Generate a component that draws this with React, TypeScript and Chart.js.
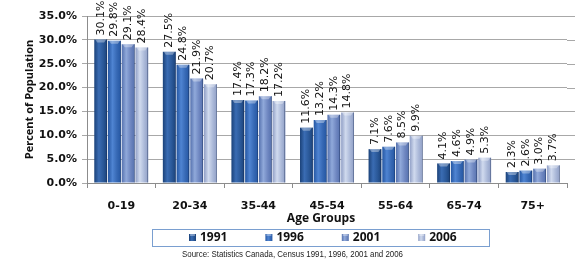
import React, { useEffect, useRef } from 'react';
import { Chart, registerables } from 'chart.js';

Chart.register(...registerables);

const categories = ['0-19', '20-34', '35-44', '45-54', '55-64', '65-74', '75+'];
const years = ['1991', '1996', '2001', '2006'];
const values1991 = [30.1, 27.5, 17.4, 11.6, 7.1, 4.1, 2.3];
const values1996 = [29.8, 24.8, 17.3, 13.2, 7.6, 4.6, 2.6];
const values2001 = [29.1, 21.9, 18.2, 14.3, 8.5, 4.9, 3.0];
const values2006 = [28.4, 20.7, 17.2, 14.8, 9.9, 5.3, 3.7];
const yMin = 0;
const yMax = 35;
const yStep = 5;
const xTitle = 'Age Groups';
const yTitle = 'Percent of Population';
const sourceNote = 'Source: Statistics Canada, Census 1991, 1996, 2001 and 2006';

const seriesValues = [values1991, values1996, values2001, values2006];
const seriesColors = [
  { dark: '#1b4279', mid: '#3a6cb3', base: '#2a5898' },
  { dark: '#2456a2', mid: '#4f84d2', base: '#3668b4' },
  { dark: '#5571ae', mid: '#90a9da', base: '#6e86c0' },
  { dark: '#909fc6', mid: '#d0daee', base: '#aab8d8' },
];

const CAT_PCT = 0.8;
const BAR_PCT = 0.94;

function barGradient(ctx: any, colors: { dark: string; mid: string; base: string }) {
  if (ctx.type !== 'data') return colors.base;
  const chart = ctx.chart;
  const xs = chart.scales && chart.scales.x;
  if (!xs || !isFinite(xs.left) || xs.right <= xs.left) return colors.base;
  const cw = (xs.right - xs.left) / categories.length;
  const slot = (cw * CAT_PCT) / years.length;
  const c = xs.getPixelForValue(ctx.dataIndex) + (ctx.datasetIndex - (years.length - 1) / 2) * slot;
  const hw = (slot * BAR_PCT) / 2;
  const g = chart.ctx.createLinearGradient(c - hw, 0, c + hw, 0);
  g.addColorStop(0, colors.dark);
  g.addColorStop(0.35, colors.mid);
  g.addColorStop(0.7, colors.base);
  g.addColorStop(1, colors.dark);
  return g;
}

const decorPlugin = {
  id: 'decor',
  beforeDatasetsDraw(chart: any) {
    const { ctx, chartArea } = chart;
    const ys = chart.scales.y;
    ctx.save();
    ctx.strokeStyle = '#a8a8a8';
    ctx.lineWidth = 1;
    ys.ticks.forEach((t: any) => {
      const py = Math.round(ys.getPixelForValue(t.value)) + 0.5;
      if (t.value === 0) return;
      ctx.beginPath();
      ctx.moveTo(chartArea.right, py);
      ctx.lineTo(chart.width, py);
      ctx.stroke();
    });
    ctx.restore();
  },
  afterDatasetsDraw(chart: any) {
    const { ctx } = chart;
    ctx.save();
    chart.data.datasets.forEach((ds: any, di: number) => {
      const meta = chart.getDatasetMeta(di);
      meta.data.forEach((el: any, i: number) => {
        const { x, y, width, base } = el.getProps(['x', 'y', 'width', 'base'], true);
        const l = x - width / 2;
        const r = x + width / 2;
        ctx.fillStyle = 'rgba(255,255,255,0.35)';
        ctx.beginPath();
        ctx.moveTo(l + 1, y);
        ctx.lineTo(r - 1, y);
        ctx.lineTo(r - 3, y + 3);
        ctx.lineTo(l + 3, y + 3);
        ctx.closePath();
        ctx.fill();
        ctx.strokeStyle = 'rgba(20,40,80,0.35)';
        ctx.lineWidth = 1;
        ctx.beginPath();
        ctx.moveTo(Math.round(r) - 0.5, y);
        ctx.lineTo(Math.round(r) - 0.5, base);
        ctx.stroke();
        const v = ds.data[i];
        ctx.save();
        ctx.translate(x, y - 4);
        ctx.rotate(-Math.PI / 2);
        ctx.fillStyle = '#111';
        ctx.font = '11px "DejaVu Sans"';
        ctx.textAlign = 'left';
        ctx.textBaseline = 'middle';
        ctx.fillText(v.toFixed(1) + '%', 0, 0);
        ctx.restore();
      });
    });
    ctx.restore();
  },
  afterDraw(chart: any) {
    const { ctx } = chart;
    ctx.save();
    ctx.fillStyle = '#111';
    ctx.font = 'bold 12px "Open Sans"';
    ctx.textAlign = 'center';
    ctx.textBaseline = 'middle';
    ctx.fillText(xTitle, 321, 219);

    ctx.strokeStyle = '#7a9fd0';
    ctx.lineWidth = 1;
    ctx.fillStyle = '#ffffff';
    ctx.fillRect(152.5, 229.5, 337, 17);
    ctx.strokeRect(152.5, 229.5, 337, 17);
    years.forEach((yr, i) => {
      const mx = 189 + i * 76.4;
      const col = seriesColors[i];
      const g = ctx.createLinearGradient(mx, 0, mx + 7, 0);
      g.addColorStop(0, col.dark);
      g.addColorStop(0.4, col.mid);
      g.addColorStop(1, col.dark);
      ctx.fillStyle = g;
      ctx.fillRect(mx, 234, 7, 7);
      ctx.fillStyle = 'rgba(255,255,255,0.35)';
      ctx.fillRect(mx + 1, 234, 5, 2);
      ctx.fillStyle = '#111';
      ctx.font = 'bold 12px "Open Sans"';
      ctx.textAlign = 'left';
      ctx.textBaseline = 'middle';
      ctx.fillText(yr, mx + 11, 238);
    });

    ctx.font = '9px "Liberation Sans Narrow", "Liberation Sans"';
    ctx.fillStyle = '#222';
    ctx.textAlign = 'center';
    ctx.textBaseline = 'middle';
    const w = ctx.measureText(sourceNote).width;
    const target = 221;
    ctx.translate(292.5, 255);
    if (w > target) ctx.scale(target / w, 1);
    ctx.fillText(sourceNote, 0, 0);
    ctx.restore();
  },
};

export default function App() {
  const ref = useRef<HTMLCanvasElement>(null);
  useEffect(() => {
    document.body.style.margin = '0';
    if (!ref.current) return;
    const chart = new Chart(ref.current, {
      type: 'bar',
      data: {
        labels: categories,
        datasets: years.map((yr, i) => ({
          label: yr,
          data: seriesValues[i],
          backgroundColor: (ctx: any) => barGradient(ctx, seriesColors[i]),
          borderWidth: 0,
          categoryPercentage: CAT_PCT,
          barPercentage: BAR_PCT,
        })),
      },
      options: {
        responsive: false,
        animation: false,
        devicePixelRatio: 1,
        layout: { padding: { top: 16, right: 8, left: 0, bottom: 0 } },
        plugins: {
          legend: { display: false },
          tooltip: { enabled: false },
          title: { display: false },
        },
        scales: {
          x: {
            offset: true,
            grid: {
              display: true,
              offset: true,
              drawOnChartArea: false,
              drawTicks: true,
              tickLength: 5,
              color: '#8c8c8c',
            },
            border: { display: true, color: '#8c8c8c' },
            ticks: {
              color: '#111',
              font: { family: '"DejaVu Sans"', size: 11, weight: 'bold' },
              padding: 12,
              maxRotation: 0,
              autoSkip: false,
            },
            afterFit(scale: any) {
              scale.height = 78;
            },
          },
          y: {
            min: yMin,
            max: yMax,
            ticks: {
              stepSize: yStep,
              color: '#111',
              font: { family: '"DejaVu Sans"', size: 11, weight: 'bold' },
              padding: 5,
              callback: (v: any) => Number(v).toFixed(1) + '%',
            },
            grid: { color: '#a8a8a8', tickLength: 5, drawTicks: true },
            border: { display: true, color: '#8c8c8c' },
            title: {
              display: true,
              text: yTitle,
              color: '#111',
              font: { family: '"Open Sans"', size: 11, weight: 'bold' },
              padding: { top: 23, bottom: 0 },
            },
            afterFit(scale: any) {
              scale.width = 87;
            },
          },
        },
      },
      plugins: [decorPlugin],
    });
    return () => chart.destroy();
  }, []);
  return (
    <div style={{ position: 'absolute', left: 0, top: 0, width: 575, height: 261 }}>
      <canvas ref={ref} width={575} height={261} style={{ width: 575, height: 261, display: 'block' }} />
    </div>
  );
}
